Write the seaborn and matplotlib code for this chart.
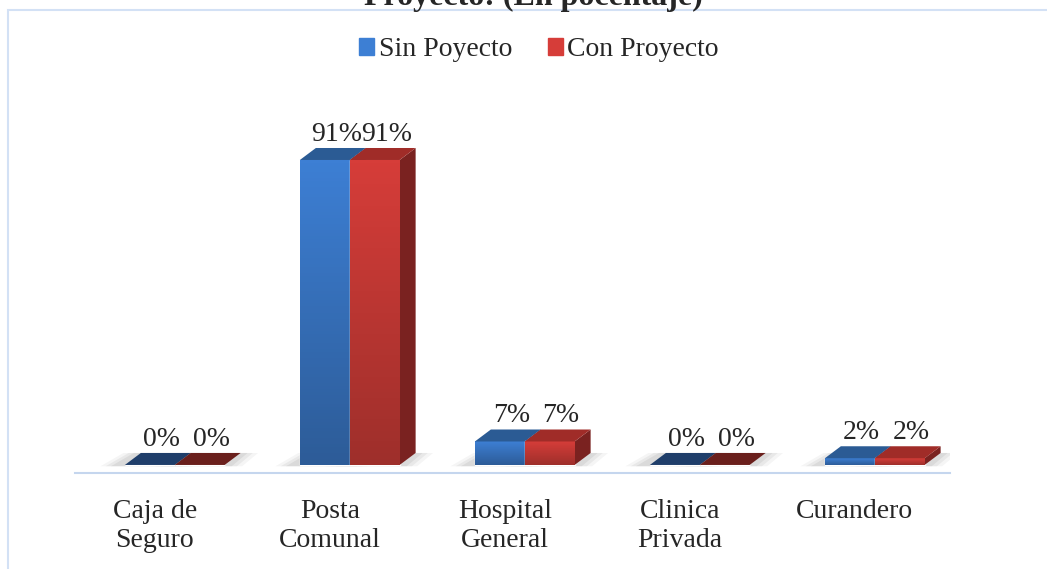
import numpy as np
import pandas as pd
import matplotlib
matplotlib.use("Agg")
import matplotlib.pyplot as plt
import matplotlib.transforms as mtransforms
from matplotlib.patches import Polygon, Rectangle
from matplotlib.colors import LinearSegmentedColormap
import seaborn as sns

categories = ["Caja de\nSeguro", "Posta\nComunal", "Hospital\nGeneral", "Clinica\nPrivada", "Curandero"]
sin_proyecto = [0, 91, 7, 0, 2]
con_proyecto = [0, 91, 7, 0, 2]
series_names = ["Sin Poyecto", "Con Proyecto"]

df = pd.DataFrame({
    "cat": categories * 2,
    "val": sin_proyecto + con_proyecto,
    "serie": [series_names[0]] * 5 + [series_names[1]] * 5,
})

sns.set_style("white")
plt.rcParams["font.family"] = ["Liberation Serif", "DejaVu Serif"]

W, H = 1047, 569
fig = plt.figure(figsize=(W / 100, H / 100), dpi=100)
ax = fig.add_axes([75 / W, 1 - 473 / H, (950 - 75) / W, (473 - 100) / H])

# colours: front (light/dark for gradient), top, side
styles = {
    series_names[0]: dict(light="#3d7fd4", dark="#2d5c98", top="#2b5b94", top0="#1f3e6a", side="#22477a"),
    series_names[1]: dict(light="#d63d39", dark="#9e2f2b", top="#a02c28", top0="#6a1f1c", side="#7a2220"),
}
palette = {k: v["light"] for k, v in styles.items()}

sns.barplot(data=df, x="cat", y="val", hue="serie", palette=palette,
            width=0.57, gap=0, ax=ax, legend=False, saturation=1)

ax.set_xlim(-0.57, 4.43)
ax.set_ylim(-2.4, 108.9)

dx = 16 / 175
dy = 12 / 3.352

for i, (container, name) in enumerate(zip(ax.containers, series_names)):
    st = styles[name]
    cmap = LinearSegmentedColormap.from_list(name, [st["dark"], st["light"]])
    vals = [sin_proyecto, con_proyecto][i]
    z = 2 + i
    for bar, v in zip(container, vals):
        x0, w, h = bar.get_x(), bar.get_width(), bar.get_height()
        x1 = x0 + w
        bar.set_zorder(z)
        # soft floor shadow
        for k, a in enumerate([0.04, 0.05, 0.06]):
            e = 0.1 - 0.03 * k
            ax.add_patch(Polygon([(x0 - e - 0.04, -0.4), (x1 + e, -0.4), (x1 + dx + e, dy), (x0 + dx - e, dy)],
                                 closed=True, color="#000000", alpha=a, lw=0, zorder=1))
        if h > 0:
            grad = np.linspace(0, 1, 100).reshape(-1, 1)
            im = ax.imshow(grad, extent=(x0, x1, 0, h), origin="lower", cmap=cmap,
                           aspect="auto", zorder=z + 0.1)
            im.set_clip_path(bar)
            side = Polygon([(x1, 0), (x1 + dx, dy), (x1 + dx, h + dy), (x1, h)],
                           closed=True, color=st["side"], zorder=z, lw=0)
            ax.add_patch(side)
        top = Polygon([(x0, h), (x0 + dx, h + dy), (x1 + dx, h + dy), (x1, h)],
                      closed=True, color=st["top"] if h > 0 else st["top0"], zorder=z + 0.2, lw=0)
        ax.add_patch(top)
        ax.text(x0 + w / 2 + dx / 2 + 0.02, h + dy + 0.4, f"{v}%", ha="center", va="bottom",
                fontsize=20, zorder=10)

for s in ["left", "right", "top"]:
    ax.spines[s].set_visible(False)
ax.spines["bottom"].set_color("#c5d6ee")
ax.spines["bottom"].set_linewidth(1.5)
ax.set_yticks([])
ax.set_xlabel("")
ax.set_ylabel("")
ax.tick_params(axis="x", length=0, pad=19, labelsize=20)
ax.set_xticks(range(len(categories)))
ax.set_xticklabels(categories, linespacing=1.2)
offset = mtransforms.ScaledTranslation(-20 / 100, 0, fig.dpi_scale_trans)
for lbl in ax.get_xticklabels():
    lbl.set_transform(lbl.get_transform() + offset)

# legend
handles = [Rectangle((0, 0), 1, 1, color=styles[n]["light"]) for n in series_names]
fig.legend(handles, series_names, loc="center", bbox_to_anchor=(539 / W, 1 - 50 / H),
           ncol=2, frameon=False, fontsize=20, handlelength=0.55, handleheight=0.55,
           handletextpad=0.15, columnspacing=1.3)

# outer chart frame
fig.patches.append(Rectangle((8 / W, -0.1), 1.2, 1.1 - 10 / H, transform=fig.transFigure,
                             fill=False, edgecolor="#d3e1f5", lw=1.5, zorder=0))
fig.text(533 / W, 1 - 5 / H, "Proyecto: (En pocentaje)", ha="center", va="baseline",
         fontsize=23, fontweight="bold")

fig.savefig("out.png", dpi=100)
